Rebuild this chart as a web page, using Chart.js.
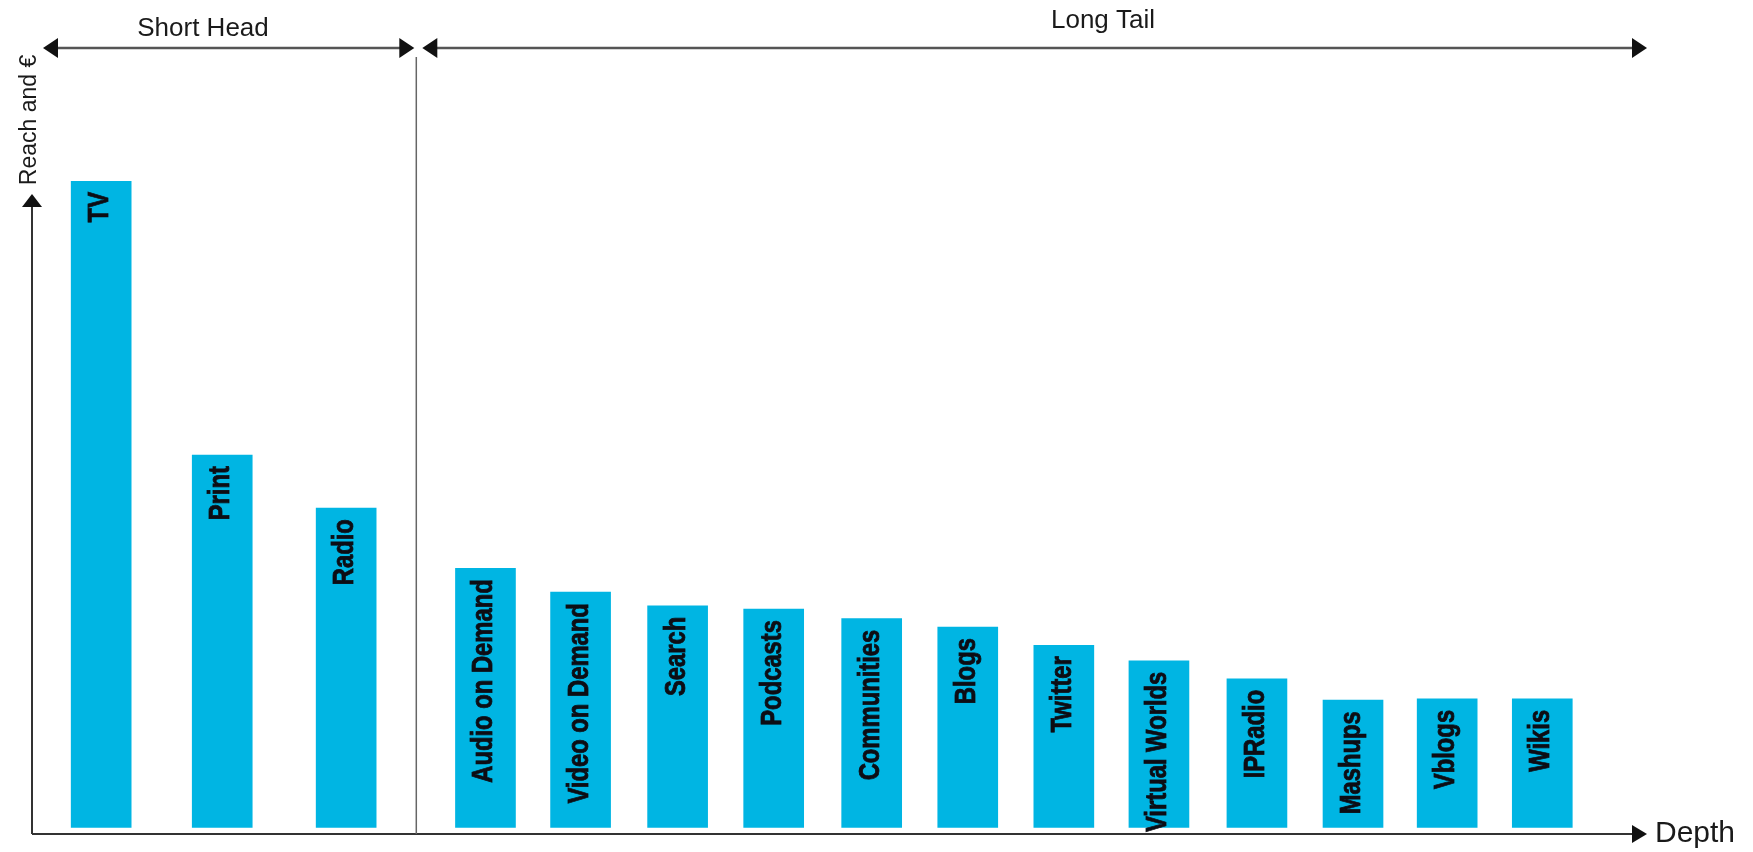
<!DOCTYPE html>
<html>
<head>
<meta charset="utf-8">
<script src="https://cdn.jsdelivr.net/npm/chart.js@4"></script>
<style>
  body { margin: 0; background: #fff; }
  #wrap { width: 1753px; height: 852px; position: relative; }
</style>
</head>
<body>
<div id="wrap"><canvas id="longtail"></canvas></div>
<script>
// channels, left to right
const categories = ['TV', 'Print', 'Radio', 'Audio on Demand', 'Video on Demand', 'Search', 'Podcasts',
  'Communities', 'Blogs', 'Twitter', 'Virtual Worlds', 'IPRadio', 'Mashups', 'Vblogs', 'Wikis'];
// position along the "Depth" axis
const depth = [0.72, 1.98, 3.27, 4.72, 5.71, 6.72, 7.72, 8.74, 9.74, 10.74, 11.73, 12.75, 13.75, 14.73, 15.72];
// reach and euros (TV = 100)
const reach = [100, 57.6, 49.4, 40.1, 36.4, 34.3, 33.8, 32.3, 31.0, 28.2, 25.8, 23.0, 19.7, 19.9, 19.9];
// where the short head ends and the long tail starts
const headEnd = 4.0;
const depthMax = 16.81;

const barColor = '#00b5e3';

function arrow(ctx, x, y, dir, len, half) {
  // dir: 'l','r','u'
  ctx.beginPath();
  if (dir === 'l') { ctx.moveTo(x, y); ctx.lineTo(x + len, y - half); ctx.lineTo(x + len, y + half); }
  if (dir === 'r') { ctx.moveTo(x, y); ctx.lineTo(x - len, y - half); ctx.lineTo(x - len, y + half); }
  if (dir === 'u') { ctx.moveTo(x, y); ctx.lineTo(x - half, y + len); ctx.lineTo(x + half, y + len); }
  ctx.closePath();
  ctx.fill();
}

const decor = {
  id: 'decor',
  afterDraw(chart) {
    const ctx = chart.ctx;
    const area = chart.chartArea;
    const xs = chart.scales.x;
    const ys = chart.scales.y;
    const divX = xs.getPixelForValue(headEnd);
    const bracketY = 48;

    ctx.save();
    ctx.fillStyle = '#111';

    // axes
    ctx.strokeStyle = '#333';
    ctx.lineWidth = 2;
    ctx.beginPath();
    ctx.moveTo(area.left, area.bottom);
    ctx.lineTo(area.right - 10, area.bottom);
    ctx.moveTo(area.left, area.bottom);
    ctx.lineTo(area.left, ys.getPixelForValue(98) + 10);
    ctx.stroke();
    arrow(ctx, area.right, area.bottom, 'r', 15, 9);
    arrow(ctx, area.left, ys.getPixelForValue(98), 'u', 13, 10);

    // divider between short head and long tail
    ctx.strokeStyle = '#666';
    ctx.lineWidth = 1.5;
    ctx.beginPath();
    ctx.moveTo(divX, bracketY + 9);
    ctx.lineTo(divX, area.bottom);
    ctx.stroke();

    // brackets on top
    ctx.strokeStyle = '#555';
    ctx.lineWidth = 2.5;
    ctx.beginPath();
    ctx.moveTo(area.left + 20, bracketY);
    ctx.lineTo(divX - 12, bracketY);
    ctx.moveTo(divX + 16, bracketY);
    ctx.lineTo(area.right - 10, bracketY);
    ctx.stroke();
    arrow(ctx, area.left + 11, bracketY, 'l', 15, 10);
    arrow(ctx, divX - 2, bracketY, 'r', 15, 10);
    arrow(ctx, divX + 6, bracketY, 'l', 15, 10);
    arrow(ctx, area.right, bracketY, 'r', 15, 10);

    // titles
    ctx.fillStyle = '#1a1a1a';
    ctx.font = '26px "Liberation Sans", Arial, sans-serif';
    ctx.textAlign = 'center';
    ctx.textBaseline = 'alphabetic';
    ctx.fillText('Short Head', 203, 36);
    ctx.fillText('Long Tail', 1103, 28);

    ctx.font = '30px "Liberation Sans", Arial, sans-serif';
    ctx.textAlign = 'left';
    ctx.textBaseline = 'middle';
    ctx.fillText('Depth', area.right + 8, area.bottom);

    ctx.save();
    ctx.translate(30, 120);
    ctx.rotate(-Math.PI / 2);
    ctx.font = '23px "Liberation Sans", Arial, sans-serif';
    ctx.textAlign = 'center';
    ctx.textBaseline = 'middle';
    ctx.fillText('Reach and €', 0, 0);
    ctx.restore();

    // labels inside the bars
    const bars = chart.getDatasetMeta(0).data;
    ctx.fillStyle = '#0d0d14';
    ctx.strokeStyle = '#0d0d14';
    ctx.lineWidth = 0.8;
    ctx.font = 'bold 29px "Liberation Sans", Arial, sans-serif';
    bars.forEach((bar, i) => {
      ctx.save();
      ctx.translate(bar.x - 1, bar.y + 11);
      ctx.rotate(-Math.PI / 2);
      ctx.scale(0.82, 1);
      ctx.textAlign = 'right';
      ctx.textBaseline = 'middle';
      ctx.fillText(categories[i], 0, 0);
      ctx.strokeText(categories[i], 0, 0);
      ctx.restore();
    });

    ctx.restore();
  }
};

const ctx = document.getElementById('longtail').getContext('2d');
const longTailChart = new Chart(ctx, {
  type: 'bar',
  data: {
    labels: categories,
    datasets: [{
      label: 'Reach and €',
      data: depth.map((d, i) => ({ x: d, y: reach[i] })),
      backgroundColor: barColor,
      borderWidth: 0,
      barThickness: 60
    }]
  },
  options: {
    responsive: true,
    maintainAspectRatio: false,
    animation: false,
    layout: { padding: { left: 32, right: 106, top: 181, bottom: 18 } },
    scales: {
      x: { type: 'linear', min: 0, max: depthMax, offset: false, display: false },
      y: { min: -1, max: 100, display: false }
    },
    plugins: {
      legend: { display: false },
      tooltip: { enabled: false }
    }
  },
  plugins: [decor]
});
</script>
</body>
</html>
